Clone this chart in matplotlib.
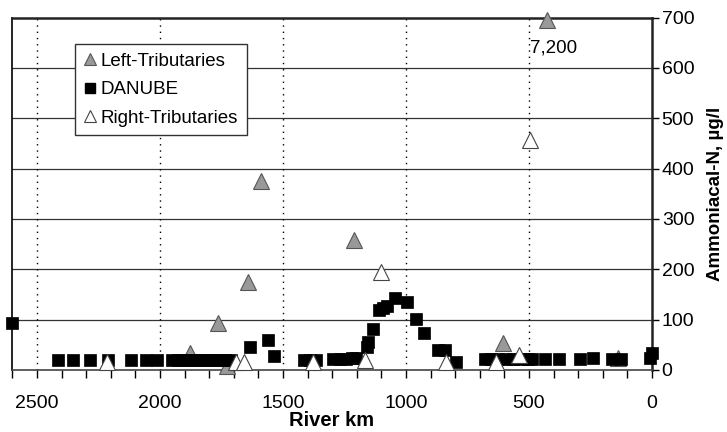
import matplotlib
matplotlib.use("Agg")
import matplotlib.pyplot as plt
from matplotlib.lines import Line2D
import numpy as np

plt.rcParams['font.family'] = ['Liberation Sans', 'DejaVu Sans']

# Data (River km, Ammoniacal-N µg/l)
left_km = [1880, 1764, 1727, 1642, 1588, 1211, 606, 427, 138]
left_val = [34, 93, 8, 175, 375, 258, 53, 7200, 24]

danube_km = [2600, 2416, 2356, 2285, 2211, 2119, 2058, 2011,
             1951, 1927, 1903, 1879, 1855, 1831, 1807, 1783, 1759, 1735, 1711,
             1634, 1560, 1537, 1416, 1390, 1365,
             1295, 1270, 1245, 1220, 1202,
             1160, 1155, 1133, 1110, 1095, 1077, 1045, 995, 959, 927,
             870, 840, 796, 680, 655, 625, 595, 565, 535, 505, 488,
             435, 377, 291, 239, 162, 125, 10, 1]
danube_val = [94, 20, 20, 20, 20, 20, 20, 20,
              20, 20, 20, 20, 20, 20, 20, 20, 20, 20, 20,
              45, 60, 27, 20, 20, 20,
              21, 21, 21, 23, 24,
              46, 56, 81, 119, 124, 127, 142, 136, 101, 74,
              40, 40, 16, 21, 21, 21, 21, 21, 21, 21, 21,
              21, 21, 21, 23, 21, 21, 23, 34]

right_km = [2215, 1691, 1659, 1378, 1167, 1102, 837, 634, 541, 496]
right_val = [16, 16, 16, 16, 20, 195, 16, 16, 30, 456]

x_ticks = [2500, 2000, 1500, 1000, 500, 0]
y_ticks = [0, 100, 200, 300, 400, 500, 600, 700]
y_max = 700

fig = plt.figure(figsize=(7.27, 4.32), dpi=100)
ax = fig.add_axes([12/727, 1-370/432, 640/727, 352.5/432])

ax.set_xlim(2602, 0)
ax.set_ylim(0, y_max)

# grid
for yv in y_ticks[1:-1]:
    ax.axhline(yv, color='#333333', lw=0.9, zorder=1)
for xv in x_ticks[:-1]:
    ax.axvline(xv, color='black', lw=1.0, ls=(0, (1, 3.5)), zorder=1)

left_plot = np.minimum(left_val, 695)
ms_tri = 11
ax.plot(left_km, left_plot, ls='', marker='^', ms=ms_tri, mfc='#999999',
        mec='#555555', mew=0.8, zorder=3, clip_on=False)
ax.plot(danube_km, danube_val, ls='', marker='s', ms=8.3, mfc='black',
        mec='black', mew=0.5, zorder=4, clip_on=False)
ax.plot(right_km, right_val, ls='', marker='^', ms=ms_tri, mfc='white',
        mec='#444444', mew=0.8, zorder=5, clip_on=False)

# off-scale annotation
for k, v in zip(left_km, left_val):
    if v > y_max:
        ax.text(494, 640, f"{v:,}", fontsize=13.5, ha='left', va='center', zorder=6)

# axes styling
ax.yaxis.tick_right()
ax.yaxis.set_label_position('right')
ax.set_yticks(y_ticks)
ax.set_xticks(x_ticks)
ax.set_xticks(np.arange(0, 2601, 100), minor=True)
ax.tick_params(axis='x', which='both', direction='out', length=6, width=1,
               labelsize=14, pad=12, colors='black')
ax.tick_params(axis='y', which='major', direction='out', length=5, width=1,
               labelsize=14, pad=2)
ax.set_xlabel('River km', fontsize=14.5, fontweight='bold', labelpad=-1)
ax.set_ylabel('Ammoniacal-N, µg/l', fontsize=13.5, fontweight='bold', labelpad=9)

for s in ['top', 'right']:
    ax.spines[s].set_linewidth(1.8)
    ax.spines[s].set_color('#222222')
ax.spines['left'].set_linewidth(1.2)
ax.spines['bottom'].set_linewidth(1.2)
ax.spines['bottom'].set_color('#444444')

handles = [
    Line2D([], [], ls='', marker='^', ms=8, mfc='#999999', mec='#555555', mew=0.8),
    Line2D([], [], ls='', marker='s', ms=7, mfc='black', mec='black'),
    Line2D([], [], ls='', marker='^', ms=8, mfc='white', mec='#444444', mew=0.8),
]
leg = ax.legend(handles, ['Left-Tributaries', 'DANUBE', 'Right-Tributaries'],
                loc='upper left', bbox_to_anchor=(0.098, 0.925), borderaxespad=0,
                fontsize=13.5, handlelength=0.7, handletextpad=0.25, labelspacing=0.62,
                borderpad=0.45, fancybox=False, framealpha=1, edgecolor='#333333',
                frameon=True)
leg.get_frame().set_linewidth(1.0)
leg.set_zorder(10)

fig.savefig('out.png', dpi=100, facecolor='white')
